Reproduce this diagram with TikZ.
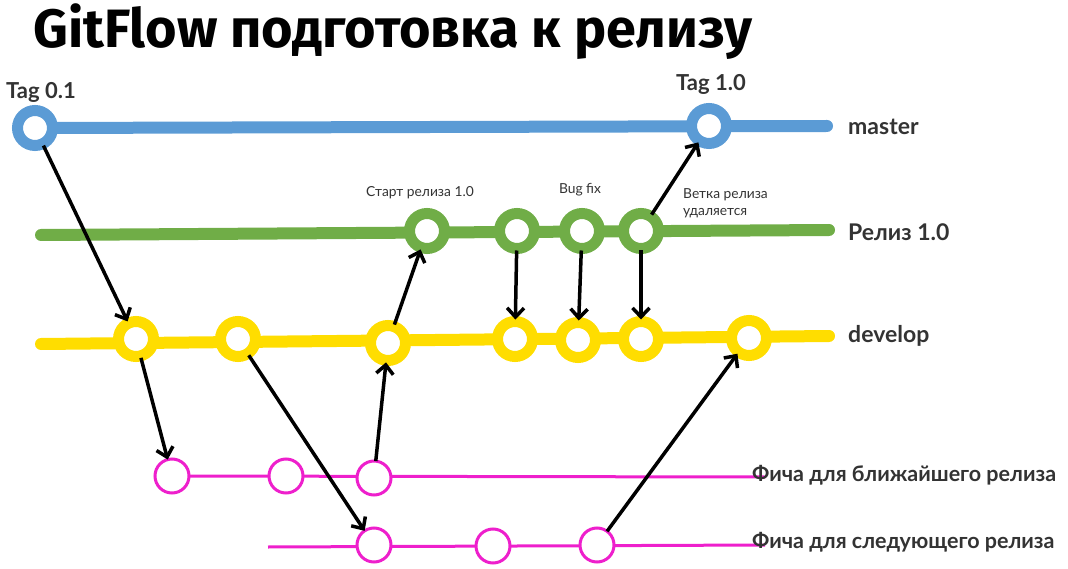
\documentclass[tikz,border=0pt]{standalone}
\usepackage{fontspec}
\setmainfont{Lato}
\newfontfamily\titlefont{Fira Sans}
\usetikzlibrary{arrows.meta, positioning}
\definecolor{masterblue}{HTML}{5B9BD5}
\definecolor{releasegreen}{HTML}{70AD47}
\definecolor{developyellow}{HTML}{FFDD00}
\definecolor{featurepink}{HTML}{EE1FCC}
\definecolor{labelgray}{HTML}{333333}
\tikzstyle{lane} = [line width=12pt, line cap=round]
\tikzstyle{featlane} = [line width=3pt, draw=featurepink]
\tikzstyle{commit} = [circle, line width=11pt, minimum size=35pt, inner sep=0pt, outer sep=2pt, fill=white]
\tikzstyle{featcommit} = [circle, line width=3pt, minimum size=34pt, inner sep=0pt, outer sep=0pt, draw=featurepink, fill=white]
\tikzstyle{lanelabel} = [anchor=west, inner sep=0pt, font=\fontsize{23}{26}\selectfont\bfseries, text=labelgray]
\tikzstyle{featlabel} = [anchor=west, inner sep=0pt, font=\fontsize{21.5}{25}\selectfont\bfseries, text=labelgray]
\tikzstyle{taglabel} = [inner sep=0pt, font=\fontsize{22}{25}\selectfont\bfseries, text=labelgray]
\tikzstyle{note} = [inner sep=0pt, font=\fontsize{13.8}{17}\selectfont, text=labelgray, align=left]
\tikzstyle{arrow} = [line width=3.5pt, -{Straight Barb[length=9pt, width=17pt]}]

\begin{document}
\begin{tikzpicture}[x=1pt, y=-1pt]
\useasboundingbox (0,0) rectangle (1068,569);

\node (title) [anchor=base west, inner sep=0pt, font=\titlefont\fontsize{54}{60}\selectfont\bfseries, text=black] at (33,48) {GitFlow подготовка к релизу};

% lanes
\coordinate (masterstart) at (35,128);
\coordinate (masterend) at (827,126);
\coordinate (relstart) at (41,235);
\coordinate (relend) at (829,230);
\coordinate (devstart) at (41,344);
\coordinate (devend) at (829,336);
\coordinate (featAstart) at (172,476);
\coordinate (featAend) at (765,477);
\coordinate (featBstart) at (268,547);
\coordinate (featBend) at (765,545);

\draw [lane, masterblue] (masterstart) -- (masterend);
\draw [lane, releasegreen] (relstart) -- (relend);
\draw [lane, developyellow] (devstart) -- (devend);
\draw [featlane] (featAstart) -- (featAend);
\draw [featlane] (featBstart) -- (featBend);

% commits
\node (tag0) [commit, draw=masterblue] at (35,128) {};
\node (tag1) [commit, draw=masterblue] at (709,126) {};

\node (rel1) [commit, draw=releasegreen] at (427,231) {};
\node (rel2) [commit, draw=releasegreen] at (517,231) {};
\node (rel3) [commit, draw=releasegreen] at (582,231) {};
\node (rel4) [commit, draw=releasegreen] at (641,231) {};

\node (dev1) [commit, draw=developyellow] at (136,339) {};
\node (dev2) [commit, draw=developyellow] at (238,339) {};
\node (dev3) [commit, draw=developyellow] at (388,343) {};
\node (dev4) [commit, draw=developyellow] at (515,339) {};
\node (dev5) [commit, draw=developyellow] at (578,340) {};
\node (dev6) [commit, draw=developyellow] at (641,339) {};
\node (dev7) [commit, draw=developyellow] at (749,338) {};

\node (featA1) [featcommit] at (172,476) {};
\node (featA2) [featcommit] at (286,476) {};
\node (featA3) [featcommit] at (374,478) {};
\node (featB1) [featcommit] at (374,545) {};
\node (featB2) [featcommit] at (493,546) {};
\node (featB3) [featcommit] at (597,545) {};

% labels
\node (mastername) [lanelabel] at (848,127) {master};
\node (relname) [lanelabel] at (848,232) {Релиз 1.0};
\node (devname) [lanelabel] at (848,336) {develop};
\node (featAname) [featlabel] at (752,475) {Фича для ближайшего релиза};
\node (featBname) [featlabel] at (752,542) {Фича для следующего релиза};

\node (tag0name) [taglabel] at (41,92) {Tag 0.1};
\node (tag1name) [taglabel] at (711,84) {Tag 1.0};
\node (startnote) [note] at (420,193) {Старт релиза 1.0};
\node (bugnote) [note] at (580,190) {Bug fix};
\node (closenote) [note, anchor=west] at (683,203) {Ветка релиза\\удаляется};

% merges
\draw [arrow] (tag0) -- (dev1);
\draw [arrow] (dev1) -- (featA1);
\draw [arrow] (dev2) -- (featB1);
\draw [arrow] (featA3) -- (dev3);
\draw [arrow] (dev3) -- (rel1);
\draw [arrow] (rel2) -- (dev4);
\draw [arrow] (rel3) -- (dev5);
\draw [arrow] (rel4) -- (dev6);
\draw [arrow] (rel4) -- (tag1);
\draw [arrow] (featB3) -- (dev7);

\end{tikzpicture}
\end{document}
